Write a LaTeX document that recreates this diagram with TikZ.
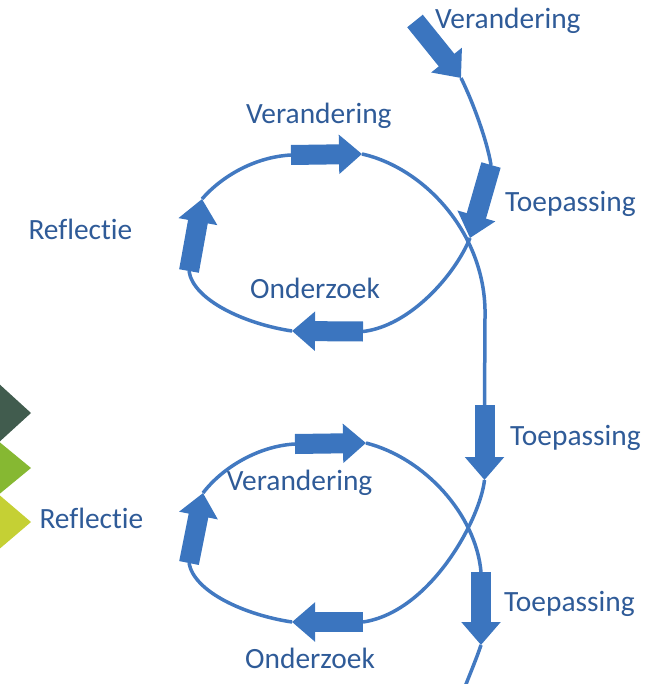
\documentclass[tikz,border=0pt]{standalone}
\usepackage{fontspec}
\setmainfont[RawFeature={-liga}]{Carlito}
\usetikzlibrary{arrows.meta}
\definecolor{txt}{HTML}{2F5B98}
\definecolor{arr}{HTML}{3B75BF}
\definecolor{ln}{HTML}{4279C1}
\definecolor{dg}{HTML}{415C4E}
\definecolor{mg}{HTML}{86B832}
\definecolor{lg}{HTML}{C5D034}
\begin{document}
\begin{tikzpicture}[x=1pt,y=-1pt,
  lbl/.style={anchor=base west,inner sep=0pt,text=txt,font=\fontsize{29.4}{34}\selectfont},
  conn/.style={draw=ln,line width=3.5pt},
  blk/.style={draw=arr,line width=20pt,-{Triangle[width=38pt,length=23pt]}},
]
\useasboundingbox (0,0) rectangle (661,684);
\clip (0,0) rectangle (661,684);
% left chevrons
\fill[mg] (-3,440) -- (31,468) -- (-3,496) -- cycle;
\fill[dg] (-3,382) -- (31,413) -- (-3,444) -- cycle;
\fill[lg] (-3,493) -- (31,522) -- (-3,551) -- cycle;
% coordinates
\coordinate (V0t) at (415,21);   \coordinate (V0h) at (461,78);
\coordinate (T1t) at (491,165);  \coordinate (T1h) at (470,238);
\coordinate (O1t) at (363,331.5);\coordinate (O1h) at (292,331);
\coordinate (R1t) at (189,271);  \coordinate (R1h) at (202,199);
\coordinate (V1t) at (291,155);  \coordinate (V1h) at (362,154);
\coordinate (S1) at (485,317);
\coordinate (T2t) at (484.5,405);\coordinate (T2h) at (484.5,480);
\coordinate (O2t) at (363,622);  \coordinate (O2h) at (292,622);
\coordinate (R2t) at (189,563);  \coordinate (R2h) at (203,493);
\coordinate (V2t) at (295,444);  \coordinate (V2h) at (366,443);
\coordinate (T3t) at (481,572);  \coordinate (T3h) at (481,645);
\coordinate (E) at (463,692);
% connectors
\draw[conn] (V0h) .. controls (472,100) and (487,140) .. (T1t);
\draw[conn] (T1h) .. controls (455,275) and (410,326) .. (O1t);
\draw[conn] (O1h) .. controls (245,324) and (193,300) .. (R1t);
\draw[conn] (R1h) .. controls (222,176) and (255,157) .. (V1t);
\draw[conn] (V1h) .. controls (425,168) and (487,235) .. (S1) -- (T2t);
\draw[conn] (T2h) .. controls (480,520) and (430,612) .. (O2t);
\draw[conn] (O2h) .. controls (245,615) and (194,592) .. (R2t);
\draw[conn] (R2h) .. controls (222,468) and (258,446) .. (V2t);
\draw[conn] (V2h) .. controls (425,458) and (476,515) .. (T3t);
\draw[conn] (T3h) .. controls (476,660) and (469,676) .. (E);
% block arrows
\draw[blk] (V0t) -- (V0h);
\draw[blk] (T1t) -- (T1h);
\draw[blk] (O1t) -- (O1h);
\draw[blk] (R1t) -- (R1h);
\draw[blk] (V1t) -- (V1h);
\draw[blk] (T2t) -- (T2h);
\draw[blk] (O2t) -- (O2h);
\draw[blk] (R2t) -- (R2h);
\draw[blk] (V2t) -- (V2h);
\draw[blk] (T3t) -- (T3h);
% labels
\node[lbl] (l1) at (435,28.3) {Verandering};
\node[lbl] (l2) at (505,211.7) {Toepassing};
\node[lbl] (l3) at (246,123.3) {Verandering};
\node[lbl] (l4) at (28.3,240) {Reflectie};
\node[lbl] (l5) at (250,298) {Onderzoek};
\node[lbl] (l6) at (510,445) {Toepassing};
\node[lbl] (l7) at (39.3,528.3) {Reflectie};
\node[lbl] (l8) at (226.7,490) {Verandering};
\node[lbl] (l9) at (245,668) {Onderzoek};
\node[lbl] (l10) at (504,611.7) {Toepassing};
\end{tikzpicture}
\end{document}
